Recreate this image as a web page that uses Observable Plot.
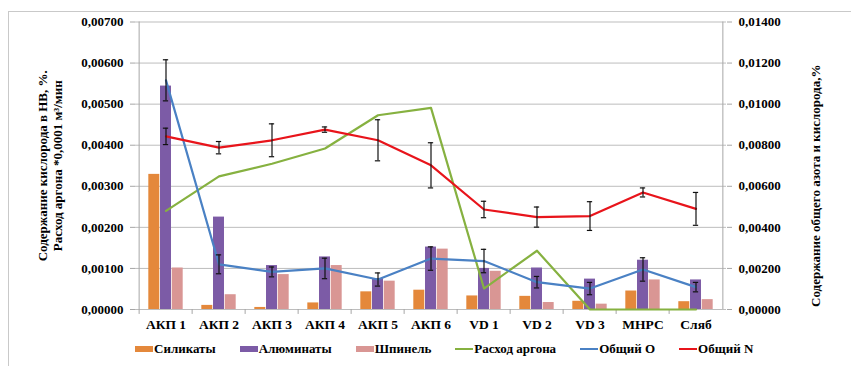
<!DOCTYPE html>
<html>
<head>
<meta charset="utf-8">
<script src="https://cdn.jsdelivr.net/npm/d3@7"></script>
<script src="https://cdn.jsdelivr.net/npm/@observablehq/plot@0.6"></script>
<style>
  body { margin: 0; background: #fff; font-family: 'Liberation Serif', 'Times New Roman', 'DejaVu Serif', serif; }
  #wrap { position: relative; width: 851px; height: 366px; overflow: hidden; }
  #border { position: absolute; left: 8px; top: 11px; width: 900px; height: 400px;
            border-left: 1px solid #c9c9c9; border-top: 1px solid #c9c9c9; }
  #chart { position: absolute; left: 0; top: 0; }
  #legend { position: absolute; left: 135px; top: 338px; height: 22px; display: flex; align-items: center;
            gap: 24px; font-family: 'Liberation Serif', 'Times New Roman', 'DejaVu Serif', serif;
            font-weight: bold; font-size: 13px; color: #000; white-space: nowrap; }
  .item { display: flex; align-items: center; gap: 1px; }
  .sw { display: inline-block; width: 18px; }
  svg text { font-family: 'Liberation Serif', 'Times New Roman', 'DejaVu Serif', serif; }
</style>
</head>
<body>
<div id="wrap">
  <div id="border"></div>
  <div id="chart"></div>
  <div id="legend"></div>
</div>
<script>
// Sampling stages
const categories = ["АКП 1", "АКП 2", "АКП 3", "АКП 4", "АКП 5", "АКП 6", "VD 1", "VD 2", "VD 3", "МНРС", "Сляб"];

// Oxygen in non-metallic inclusions, % (left axis)
const silicates  = [0.00329, 0.00010, 0.00005, 0.00016, 0.00043, 0.00047, 0.00033, 0.00032, 0.00020, 0.00045, 0.00019];
const aluminates = [0.00544, 0.00225, 0.00107, 0.00128, 0.00075, 0.00152, 0.00100, 0.00101, 0.00074, 0.00120, 0.00072];
const spinel     = [0.00101, 0.00036, 0.00085, 0.00107, 0.00069, 0.00147, 0.00093, 0.00017, 0.00013, 0.00072, 0.00024];

// Argon flow, *0.0001 m³/min (left axis)
const argon = [0.00240, 0.00324, 0.00355, 0.00392, 0.00473, 0.00491, 0.00051, 0.00143, 0, 0, 0];

// Total oxygen and nitrogen, % (right axis), with error half-widths
const totalO    = [0.01116, 0.00220, 0.00183, 0.00200, 0.00146, 0.00248, 0.00236, 0.00133, 0.00102, 0.00195, 0.00109];
const totalOErr = [0.00100, 0.00046, 0.00024, 0.00050, 0.00032, 0.00057, 0.00057, 0.00028, 0.00030, 0.00057, 0.00023];
const totalN    = [0.00843, 0.00788, 0.00824, 0.00876, 0.00824, 0.00702, 0.00487, 0.00450, 0.00455, 0.00570, 0.00490];
const totalNErr = [0.00040, 0.00030, 0.00080, 0.00013, 0.00100, 0.00110, 0.00040, 0.00049, 0.00070, 0.00022, 0.00080];

// Axis ticks and titles
const leftTicks = [0, 0.001, 0.002, 0.003, 0.004, 0.005, 0.006, 0.007];
const leftTitle = "Содержание кислорода в НВ, %.\nРасход аргона *0,0001 м³/мин";
const rightTitle = "Содержание общего азота и кислорода,%";

const colors = {
  silicates: "#e4883b",
  aluminates: "#7c5ba6",
  spinel: "#d99694",
  argon: "#86b140",
  totalO: "#4a81c4",
  totalN: "#e8141b"
};

const serif = "'Liberation Serif', 'Times New Roman', 'DejaVu Serif', serif";
const W = 851, H = 338, ML = 135, MR = 125, MT = 21.5, MB = 29;
const step = (W - ML - MR) / categories.length;
const barW = 11.7;
const groupLeft = (step - 3 * barW) / 2;
const fmt = v => v.toFixed(5).replace(".", ",");

const rows = (vals, err) => categories.map((c, i) => ({c, v: vals[i], e: err ? err[i] : 0}));

function bars(vals, k, fill) {
  const left = groupLeft + k * barW;
  return Plot.barY(rows(vals), {x: "c", y: "v", fill, insetLeft: left, insetRight: step - left - barW});
}

// Right-axis series are drawn on the left scale at half value (0.014 ↔ 0.007)
function errorBars(vals, err) {
  const d = rows(vals, err);
  const cap = (step - 6) / 2;
  return [
    Plot.ruleX(d, {x: "c", y1: r => (r.v - r.e) / 2, y2: r => (r.v + r.e) / 2, stroke: "#111", strokeWidth: 1.2}),
    Plot.tickY(d, {x: "c", y: r => (r.v - r.e) / 2, stroke: "#111", strokeWidth: 1.2, insetLeft: cap, insetRight: cap}),
    Plot.tickY(d, {x: "c", y: r => (r.v + r.e) / 2, stroke: "#111", strokeWidth: 1.2, insetLeft: cap, insetRight: cap})
  ];
}

const axisColor = "#a6a6a6";

const chart = Plot.plot({
  width: W, height: H,
  marginLeft: ML, marginRight: MR, marginTop: MT, marginBottom: MB,
  x: {domain: categories, padding: 0, axis: null},
  y: {domain: [0, 0.007], axis: null},
  style: {fontFamily: serif, fontWeight: "bold", fontSize: "13px", color: "#000", background: "transparent"},
  marks: [
    Plot.gridY({ticks: leftTicks, stroke: "#bdbdbd", strokeOpacity: 1}),
    // vertical axis lines and category boundary ticks
    Plot.ruleX([categories[0]], {x: d => d, dx: -step / 2, y1: 0, y2: 0.007, stroke: axisColor}),
    Plot.ruleX([categories[categories.length - 1]], {x: d => d, dx: step / 2, y1: 0, y2: 0.007, stroke: axisColor}),
    Plot.ruleX(categories, {x: d => d, dx: -step / 2, y1: 0, y2: -0.00012, stroke: axisColor}),
    Plot.axisY({ticks: leftTicks, tickFormat: fmt, tickSize: 5, tickPadding: 7, stroke: axisColor, label: null}),
    Plot.axisY({anchor: "right", ticks: leftTicks, tickFormat: d => fmt(d * 2), tickSize: 5, tickPadding: 7, stroke: axisColor, label: null}),
    Plot.axisX({tickSize: 0, tickPadding: 10, label: null, fontSize: 13.5}),
    bars(silicates, 0, colors.silicates),
    bars(aluminates, 1, colors.aluminates),
    bars(spinel, 2, colors.spinel),
    Plot.line(rows(argon), {x: "c", y: "v", stroke: colors.argon, strokeWidth: 2.2}),
    Plot.line(rows(totalO), {x: "c", y: r => r.v / 2, stroke: colors.totalO, strokeWidth: 2.2}),
    ...errorBars(totalO, totalOErr),
    Plot.line(rows(totalN), {x: "c", y: r => r.v / 2, stroke: colors.totalN, strokeWidth: 2.2}),
    ...errorBars(totalN, totalNErr),
    Plot.text([leftTitle], {frameAnchor: "left", text: d => d, rotate: -90, textAnchor: "middle", dx: -85.5, lineHeight: 1.15, fontSize: 13, fontWeight: "bold"}),
    Plot.text([rightTitle], {frameAnchor: "right", text: d => d, rotate: -90, textAnchor: "middle", dx: 89, dy: 20, fontSize: 13, fontWeight: "bold"})
  ]
});
document.getElementById("chart").appendChild(chart);

// Legend
const legendItems = [
  ["Силикаты", colors.silicates, "bar"],
  ["Алюминаты", colors.aluminates, "bar"],
  ["Шпинель", colors.spinel, "bar"],
  ["Расход аргона", colors.argon, "line"],
  ["Общий O", colors.totalO, "line"],
  ["Общий N", colors.totalN, "line"]
];
const legend = document.getElementById("legend");
for (const [label, color, kind] of legendItems) {
  const item = document.createElement("span");
  item.className = "item";
  const sw = document.createElement("span");
  sw.className = "sw";
  sw.style.background = color;
  sw.style.height = kind === "bar" ? "6px" : "2.5px";
  const t = document.createElement("span");
  t.textContent = label;
  item.append(sw, t);
  legend.appendChild(item);
}
</script>
</body>
</html>
